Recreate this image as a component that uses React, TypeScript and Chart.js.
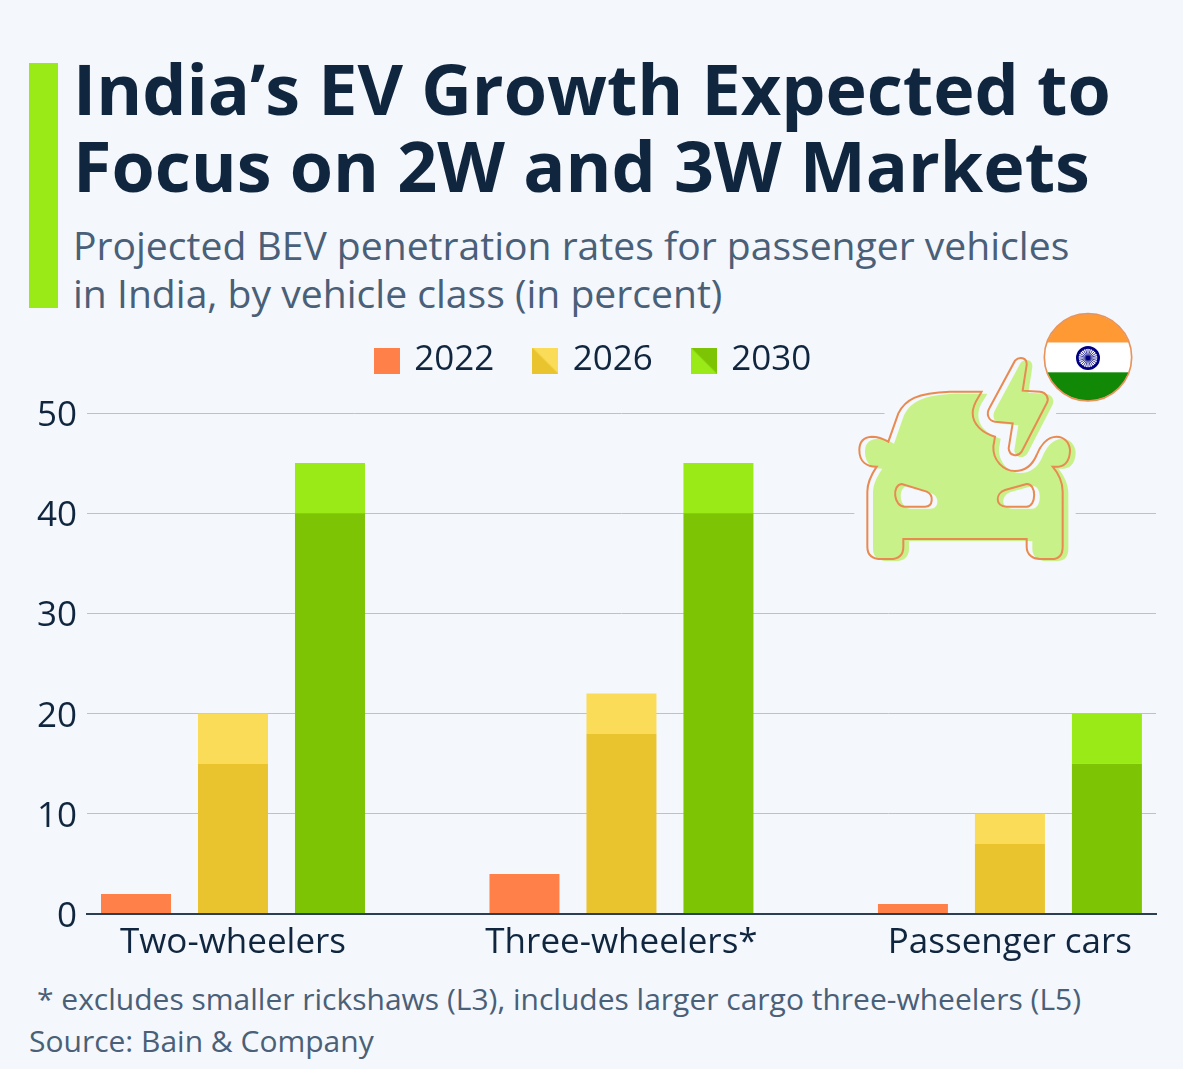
import { useEffect, useRef } from "react";
import { Chart, registerables } from "chart.js";

Chart.register(...registerables);

const categories = ["Two-wheelers", "Three-wheelers*", "Passenger cars"];
const years = ["2022", "2026", "2030"];
const values2022 = [2, 4, 1];
const values2026Low = [15, 18, 7];
const values2026High = [20, 22, 10];
const values2030Low = [40, 40, 15];
const values2030High = [45, 45, 20];
const yTicks = [0, 10, 20, 30, 40, 50];

const BG = "#f4f7fb";
const FONT = "'Open Sans', sans-serif";
const ORANGE = "#ff8149";
const YELLOW_LOW = "#e9c42f";
const YELLOW_HIGH = "#fadc58";
const GREEN_LOW = "#7cc404";
const GREEN_HIGH = "#9aea18";
const CANVAS_TOP = 302;

// legend swatch split along the diagonal
function swatch(a: string, b: string): HTMLCanvasElement {
  const c = document.createElement("canvas");
  c.width = 26;
  c.height = 26;
  const ctx = c.getContext("2d")!;
  ctx.fillStyle = a;
  ctx.fillRect(0, 0, 26, 26);
  ctx.fillStyle = b;
  ctx.beginPath();
  ctx.moveTo(0, 0);
  ctx.lineTo(26, 26);
  ctx.lineTo(0, 26);
  ctx.closePath();
  ctx.fill();
  return c;
}

const pts = (arr: number[]) => arr.map((y, x) => ({ x, y }));
const diff = (hi: number[], lo: number[]) => hi.map((v, i) => v - lo[i]);

const BODY =
  "M425,275 L330,275 C230,278 195,300 175,340 L145,425 C120,410 105,410 95,410 C65,412 58,430 58,450 C58,485 80,500 110,500 C90,530 82,550 82,575 L82,740 C82,770 105,777 125,777 L150,777 C175,777 190,765 190,740 L190,717 L560,717 L560,740 C560,765 580,777 600,777 L635,777 C660,777 668,760 668,740 L668,575 C668,545 655,520 638,500 L655,500 C680,498 690,475 690,450 C688,425 670,410 650,410 C620,410 600,440 590,465 C575,500 550,513 525,513 C490,513 458,480 460,440 L465,410 C430,400 398,375 398,340 C398,310 415,295 425,275 Z " +
  "M185,552 L260,575 C282,585 280,620 255,620 L195,620 C160,620 155,555 185,552 Z " +
  "M560,552 L495,570 C465,580 465,620 500,620 L560,620 C590,620 590,550 560,552 Z";
const BOLT =
  "M525,182 C538,168 562,172 560,195 L548,272 L600,275 C620,278 628,295 620,310 L545,455 C533,472 508,468 506,445 L518,370 L465,365 C445,362 438,342 448,325 Z";

function CarIcon() {
  const spokes = Array.from({ length: 24 }, (_, i) => i * 15);
  return (
    <svg
      viewBox="0 0 960 840"
      width={320}
      height={280}
      style={{ position: "absolute", left: 840, top: 300 }}
    >
      <path d={BODY} fill={BG} stroke={BG} strokeWidth={78} strokeLinejoin="round" />
      <path d={BOLT} fill={BG} stroke={BG} strokeWidth={78} strokeLinejoin="round" />
      <path d={BODY} transform="translate(17,6)" fill="#c9f18a" fillRule="evenodd" />
      <path d={BOLT} fill={BG} stroke={BG} strokeWidth={16} strokeLinejoin="round" />
      <path d={BOLT} transform="translate(17,6)" fill="#c9f18a" />
      <g fill="none" stroke="#e88a52" strokeWidth={6}>
        <path d={BODY} />
        <path d={BOLT} />
      </g>
      <clipPath id="flag">
        <circle cx={744} cy={172} r={130} />
      </clipPath>
      <g clipPath="url(#flag)">
        <rect x={600} y={30} width={290} height={98} fill="#ff9933" />
        <rect x={600} y={128} width={290} height={89} fill="#ffffff" />
        <rect x={600} y={217} width={290} height={98} fill="#128807" />
      </g>
      <circle cx={744} cy={172} r={131} fill="none" stroke="#e8935a" strokeWidth={5} />
      <circle cx={744} cy={174} r={32} fill="#ffffff" stroke="#000080" strokeWidth={8} />
      {spokes.map((a) => (
        <line
          key={a}
          x1={744}
          y1={174}
          x2={744}
          y2={144}
          stroke="#000080"
          strokeWidth={2}
          transform={`rotate(${a} 744 174)`}
        />
      ))}
      <circle cx={744} cy={174} r={7} fill="#000080" />
    </svg>
  );
}

// gap between the legend row and the plot, and recentre the row
const legendGap = {
  id: "legendGap",
  beforeLayout(chart: any) {
    const legend = chart.legend;
    if (legend._gapped) return;
    legend._gapped = true;
    const fit = legend.fit;
    legend.fit = function () {
      fit.call(this);
      this.height += 25;
      this.lineWidths[0] -= 32;
    };
  },
};

function App(): JSX.Element {
  const chartRef = useRef<HTMLCanvasElement | null>(null);

  useEffect(() => {
    if (!chartRef.current) return;
    const legendStyles = [
      swatch(ORANGE, ORANGE),
      swatch(YELLOW_HIGH, YELLOW_LOW),
      swatch(GREEN_LOW, GREEN_HIGH),
    ];
    const chart = new Chart(chartRef.current, {
      type: "bar",
      plugins: [legendGap],
      data: {
        datasets: [
          { label: "2022", stack: "a", data: pts(values2022), backgroundColor: ORANGE },
          { label: "2026", stack: "b", data: pts(values2026Low), backgroundColor: YELLOW_LOW },
          { label: "2026 upper", stack: "b", data: pts(diff(values2026High, values2026Low)), backgroundColor: YELLOW_HIGH },
          { label: "2030", stack: "c", data: pts(values2030Low), backgroundColor: GREEN_LOW },
          { label: "2030 upper", stack: "c", data: pts(diff(values2030High, values2030Low)), backgroundColor: GREEN_HIGH },
        ],
      },
      options: {
        animation: false,
        responsive: false,
        devicePixelRatio: 1,
        barPercentage: 0.7216,
        categoryPercentage: 0.749,
        layout: { padding: { right: 27, bottom: 0, top: 0 } },
        plugins: {
          tooltip: { enabled: false },
          legend: {
            position: "top",
            align: "center",
            labels: {
              usePointStyle: true,
              pointStyleWidth: 20,
              padding: 41,
              color: "#10263f",
              font: { family: FONT, size: 35 },
              generateLabels: () =>
                years.map((y, i) => ({
                  text: y,
                  pointStyle: legendStyles[i],
                  fontColor: "#10263f",
                  lineWidth: 0,
                  hidden: false,
                  datasetIndex: i,
                })),
            },
          },
        },
        scales: {
          x: {
            type: "linear",
            stacked: true,
            offset: false,
            min: -0.3758,
            max: 2.376,
            afterBuildTicks: (scale: any) => {
              scale.ticks = categories.map((_, i) => ({ value: i }));
            },
            grid: { display: false, offset: false },
            border: { color: "#2c3e52", width: 2, z: 1 },
            ticks: {
              autoSkip: false,
              maxRotation: 0,
              padding: 0,
              color: "#10263f",
              font: { family: FONT, size: 35 },
              callback: (v: any) => categories[v as number],
            },
            afterFit: (scale: any) => {
              scale.height = 51;
            },
          },
          y: {
            stacked: true,
            min: 0,
            max: 50,
            afterBuildTicks: (scale: any) => {
              scale.ticks = yTicks.map((value) => ({ value }));
            },
            grid: { color: "#b8c3d0", lineWidth: 1, drawTicks: false },
            border: { display: false },
            ticks: {
              padding: 10,
              labelOffset: 3,
              color: "#10263f",
              font: { family: FONT, size: 35 },
            },
            afterFit: (scale: any) => {
              scale.width = 87;
            },
          },
        },
      },
    });
    return () => chart.destroy();
  }, []);

  return (
    <div style={{ position: "relative", width: 1183, height: 1069, background: BG, overflow: "hidden", fontFamily: FONT }}>
      <style>{`html,body{margin:0;padding:0;background:${BG}}`}</style>
      <div style={{ position: "absolute", left: 29, top: 63, width: 29, height: 245, background: GREEN_HIGH }} />
      <div style={{ position: "absolute", left: 73, top: 50, fontSize: 70, lineHeight: "77px", fontWeight: 700, color: "#10263f", whiteSpace: "nowrap" }}>
        India’s EV Growth Expected to
        <br />
        Focus on 2W and 3W Markets
      </div>
      <div style={{ position: "absolute", left: 73, top: 221, fontSize: 39.1, lineHeight: "48px", color: "#4a5f78", whiteSpace: "nowrap" }}>
        Projected BEV penetration rates for passenger vehicles
        <br />
        in India, by vehicle class (in percent)
      </div>
      <canvas ref={chartRef} width={1183} height={663} style={{ position: "absolute", left: 0, top: CANVAS_TOP }} />
      <CarIcon />
      <div style={{ position: "absolute", left: 37, top: 979, fontSize: 30, lineHeight: "40px", color: "#4a5f78", whiteSpace: "nowrap" }}>
        * excludes smaller rickshaws (L3), includes larger cargo three-wheelers (L5)
      </div>
      <div style={{ position: "absolute", left: 29, top: 1021, fontSize: 30, lineHeight: "40px", color: "#4a5f78", whiteSpace: "nowrap" }}>
        Source: Bain &amp; Company
      </div>
    </div>
  );
}

export default App;
